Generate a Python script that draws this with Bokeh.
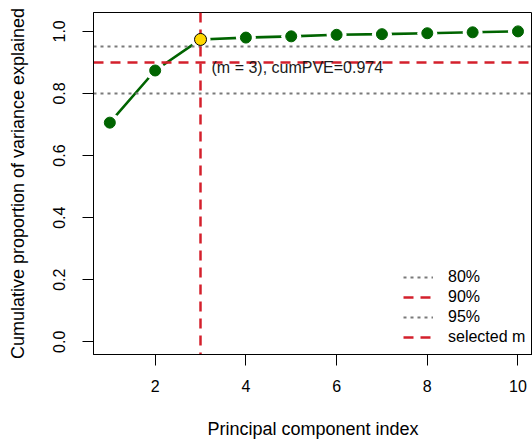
from bokeh.plotting import figure
from bokeh.models import Range1d, FixedTicker, NumeralTickFormatter, Legend, LegendItem
from bokeh.core.properties import value
from bokeh.embed import file_html
from bokeh.resources import INLINE

pc_index = [1, 2, 3, 4, 5, 6, 7, 8, 9, 10]
cum_pve = [0.706, 0.874, 0.974, 0.980, 0.984, 0.989, 0.991, 0.994, 0.997, 1.000]
selected_m = 3
selected_pve = 0.974
thresholds = [0.80, 0.90, 0.95]
threshold_labels = ["80%", "90%", "95%"]
x_ticks = [2, 4, 6, 8, 10]
y_ticks = [0.0, 0.2, 0.4, 0.6, 0.8, 1.0]
annotation_text = "(m = 3), cumPVE=0.974"
annotation_y = 0.884
x_title = "Principal component index"
y_title = "Cumulative proportion of variance explained"

FONT = "Liberation Sans"
RED = "#d4202c"
GREY = "#7a7a7a"
GREEN = "#006400"
NAN = float("nan")

p = figure(width=532, height=441, output_backend="svg", toolbar_location=None,
           x_range=Range1d(0.64, 10.32), y_range=Range1d(-0.0408, 1.0608),
           min_border_left=93, min_border_top=12, min_border_bottom=87, min_border_right=0)
p.grid.visible = False
p.outline_line_color = "black"
p.outline_line_width = 1
p.background_fill_color = "white"
p.border_fill_color = "white"

# axes
for ax in (p.xaxis[0], p.yaxis[0]):
    ax.major_tick_out = 11
    ax.major_tick_in = 0
    ax.minor_tick_out = 0
    ax.minor_tick_in = 0
    ax.major_label_text_font = FONT
    ax.major_label_text_font_size = "16px"
    ax.major_label_text_color = "black"
    ax.axis_label_text_font = FONT
    ax.axis_label_text_font_size = "18px"
    ax.axis_label_text_font_style = "normal"
    ax.axis_label_text_color = "black"
    ax.axis_line_color = "black"
    ax.major_tick_line_color = "black"

p.xaxis.ticker = FixedTicker(ticks=x_ticks)
p.yaxis.ticker = FixedTicker(ticks=y_ticks)
p.yaxis.formatter = NumeralTickFormatter(format="0.0")
p.yaxis.major_label_orientation = "vertical"
p.xaxis.axis_label = x_title
p.yaxis.axis_label = y_title
p.xaxis.major_label_standoff = 14
p.xaxis.axis_label_standoff = 24
p.yaxis.major_label_standoff = 17
p.yaxis.axis_label_standoff = 23

# data line (type = "b": gaps around the points)
p.line(pc_index, cum_pve, line_color=GREEN, line_width=2.6)
p.scatter(pc_index, cum_pve, size=20, fill_color="white", line_color=None)

# reference lines
p.hspan(y=[thresholds[0], thresholds[2]], line_color=GREY, line_width=2, line_dash="3 4")
p.hspan(y=[thresholds[1]], line_color=RED, line_width=2.5, line_dash="10 7")
p.vspan(x=[selected_m], line_color=RED, line_width=2.5, line_dash="10 7")

# points
rest_x = [x for x in pc_index if x != selected_m]
rest_y = [y for x, y in zip(pc_index, cum_pve) if x != selected_m]
p.scatter(rest_x, rest_y, size=11, fill_color=GREEN, line_color=GREEN)
p.scatter([selected_m], [selected_pve], size=12, fill_color="#FFD700", line_color="black", line_width=1)

p.text(x=[selected_m], y=[annotation_y], text=[annotation_text], x_offset=11,
       text_font=value(FONT), text_font_size="16px", text_baseline="middle",
       text_align="left", text_color="#1a1a1a")

# legend (invisible stand-in renderers)
r80 = p.line(x=[NAN, NAN], y=[NAN, NAN], line_color=GREY, line_width=2, line_dash="3 4")
r90 = p.line(x=[NAN, NAN], y=[NAN, NAN], line_color=RED, line_width=2.5, line_dash="10 7")
r95 = p.line(x=[NAN, NAN], y=[NAN, NAN], line_color=GREY, line_width=2, line_dash="3 4")
rsel = p.line(x=[NAN, NAN], y=[NAN, NAN], line_color=RED, line_width=2.5, line_dash="10 7")
legend = Legend(items=[LegendItem(label=threshold_labels[0], renderers=[r80]),
                       LegendItem(label=threshold_labels[1], renderers=[r90]),
                       LegendItem(label=threshold_labels[2], renderers=[r95]),
                       LegendItem(label="selected m", renderers=[rsel])],
                location=(310, 7), padding=0, margin=0, spacing=0,
                glyph_width=30, glyph_height=20, label_height=20, label_standoff=15,
                label_text_font=FONT, label_text_font_size="16px",
                label_text_color="black",
                background_fill_alpha=0, border_line_color=None)
p.add_layout(legend)

open("out.html", "w").write(file_html(p, INLINE))
